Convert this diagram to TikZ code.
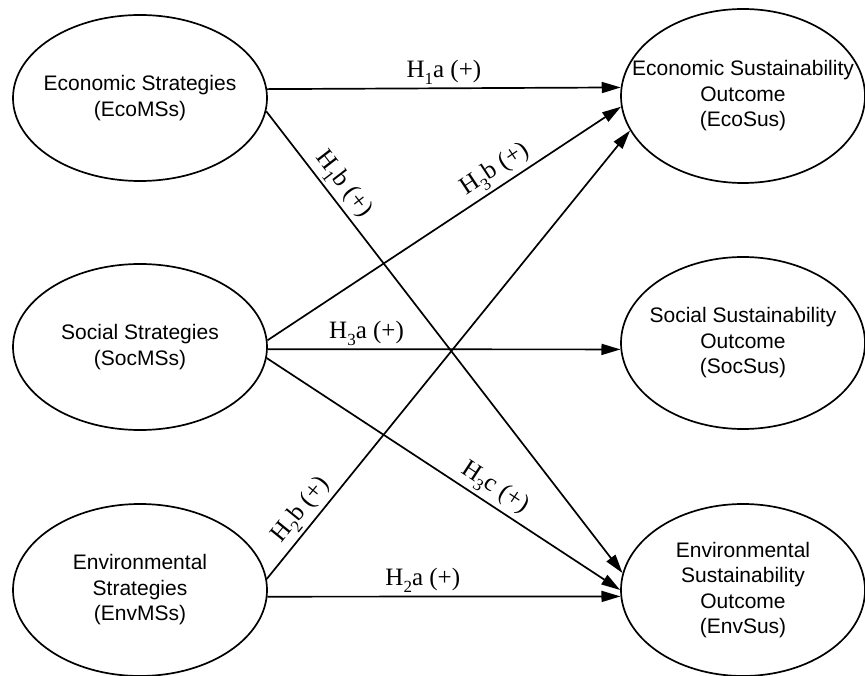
\documentclass[tikz,border=0pt]{standalone}
\usepackage{fontspec}
\newfontfamily\sansfnt{Liberation Sans}
\newfontfamily\lblfnt{Liberation Serif}
\newcommand\hsub[1]{\raisebox{-0.28em}{\fontsize{17}{17}\selectfont #1}}
\usetikzlibrary{shapes.geometric,arrows.meta}
\begin{document}
\begin{tikzpicture}[x=1pt,y=-1pt,
  box/.style={draw, line width=1.7pt, ellipse, inner sep=0pt},
  boxtext/.style={align=center, inner sep=0pt, font=\sansfnt\fontsize{21}{25.5}\selectfont},
  conn/.style={line width=1.7pt, -{Triangle[length=19pt,width=11pt]}},
  lbl/.style={font=\lblfnt\fontsize{25}{29}\selectfont, inner sep=3pt}]
\useasboundingbox (0,0) rectangle (865,676);
% left ellipses
\node[box, minimum width=254pt, minimum height=166pt,
  label={[boxtext]center:Economic Strategies\\(EcoMSs)}] (ecoS) at (140,98) {};
\node[box, minimum width=254pt, minimum height=166pt,
  label={[boxtext]center:Social Strategies\\(SocMSs)}] (socS) at (140,347) {};
\node[box, minimum width=254pt, minimum height=172pt,
  label={[boxtext]center:Environmental\\Strategies\\(EnvMSs)}] (envS) at (140,590) {};
% right ellipses
\node[box, minimum width=244pt, minimum height=174pt,
  label={[boxtext]center:Economic Sustainability\\Outcome\\(EcoSus)}] (ecoO) at (743,96) {};
\node[box, minimum width=244pt, minimum height=172pt,
  label={[boxtext]center:Social Sustainability\\Outcome\\(SocSus)}] (socO) at (743,343) {};
\node[box, minimum width=244pt, minimum height=172pt,
  label={[boxtext]center:Environmental\\Sustainability\\Outcome\\(EnvSus)}] (envO) at (743,590) {};
% connectors
\draw[conn] (ecoS.4) -- node[lbl, above] {H\hsub{1}a (+)} (ecoO.176.8);
\draw[conn] (ecoS.-6.8) -- node[lbl, above, sloped, pos=0.18] {H\hsub{1}b (+)} (envO.172);
\draw[conn] (socS.3.2) -- node[lbl, above, sloped, pos=0.67] {H\hsub{3}b (+)} (ecoO.-175.3);
\draw[conn] (socS.-1.8) -- node[lbl, above, pos=0.28] {H\hsub{3}a (+)} (socO.183.7);
\draw[conn] (socS.-5) -- node[lbl, above, sloped, pos=0.62] {H\hsub{3}c (+)} (envO.180);
\draw[conn] (envS.5) -- node[lbl, above, sloped, pos=0.13] {H\hsub{2}b (+)} (ecoO.-163.5);
\draw[conn] (envS.-3.2) -- node[lbl, above, pos=0.44] {H\hsub{2}a (+)} (envO.183.3);
\end{tikzpicture}
\end{document}
